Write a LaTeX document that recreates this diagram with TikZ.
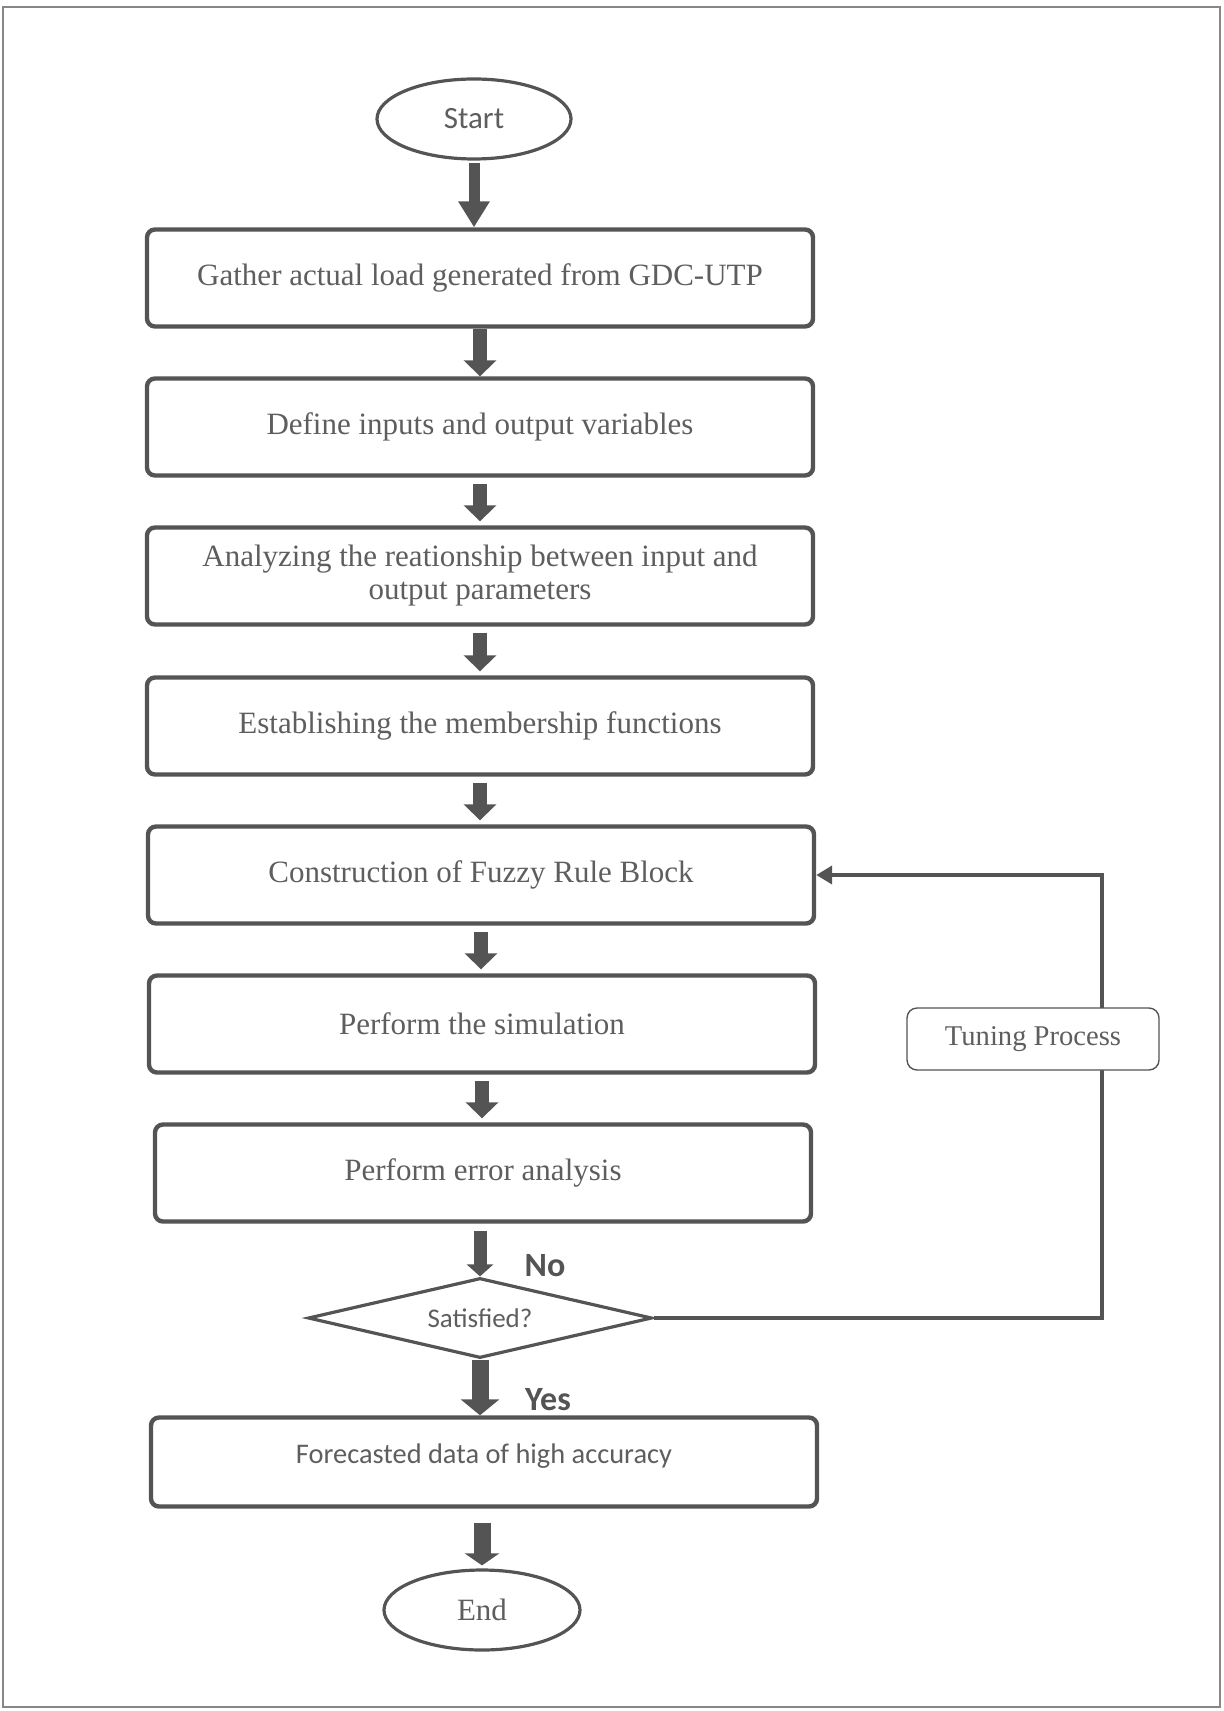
\documentclass[tikz,border=0pt]{standalone}
\usepackage{fontspec}
\setmainfont{Liberation Serif}
\newfontfamily\calib{Carlito}
\usetikzlibrary{shapes.geometric,arrows.meta,positioning,calc}
\definecolor{linegray}{HTML}{545454}
\definecolor{txtgray}{HTML}{5E5E5E}

\begin{document}
\begin{tikzpicture}[x=0.5pt,y=-0.5pt,
    procbox/.style={draw=linegray, line width=2.2pt, rounded corners=4pt, fill=white,
        minimum width=333pt, minimum height=48.5pt, inner sep=0pt, align=center,
        text=txtgray, font=\fontsize{15.5}{16.5}\selectfont},
    termin/.style={ellipse, draw=linegray, line width=1.6pt, minimum width=97pt,
        minimum height=40pt, inner sep=0pt, text=txtgray},
    decide/.style={diamond, draw=linegray, line width=1.6pt, minimum width=172pt,
        minimum height=40pt, aspect=4, inner sep=0pt, text=txtgray,
        font=\calib\fontsize{13.5}{15}\selectfont},
    tunebox/.style={draw=linegray, line width=0.7pt, rounded corners=5pt, fill=white,
        minimum width=126pt, minimum height=31pt, text=txtgray,
        font=\fontsize{14.3}{16}\selectfont},
    blockarr/.style={draw=linegray, line width=7pt, -{Triangle[width=16pt,length=8pt]}},
    fbline/.style={draw=linegray, line width=2.2pt},
    answer/.style={text=linegray, font=\calib\bfseries\fontsize{17}{18}\selectfont}
]
\useasboundingbox (0,0) rectangle (1224,1711);
% outer frame
\draw[linegray!70, line width=0.8pt] (3,7) rectangle (1220,1707);

% terminals and steps
\node[termin, font=\calib\fontsize{15.5}{17}\selectfont] (start) at (474,119) {Start};
\node[procbox] (gather) at (480,278) {Gather actual load generated from GDC-UTP};
\node[procbox] (define) at (480,427) {Define inputs and output variables};
\node[procbox] (relate) at (480,576) {Analyzing the reationship between input and\\output parameters};
\node[procbox] (member) at (480,726) {Establishing the membership functions};
\node[procbox] (rules) at (481,875) {Construction of Fuzzy Rule Block};
\node[procbox] (simul) at (482,1024) {Perform the simulation};
\node[procbox, minimum width=328pt] (error) at (483,1173) {Perform error analysis};
\node[decide] (check) at (480,1318) {Satisfied?};
\node[procbox, minimum height=44.5pt, font=\calib\fontsize{14.2}{16}\selectfont]
    (result) at (484,1462) {\raisebox{8pt}{Forecasted data of high accuracy}};
\node[termin, minimum width=98pt, font=\fontsize{15.5}{17}\selectfont] (finish) at (482,1610) {End};

% main flow
\draw[blockarr, line width=5.5pt, -{Triangle[width=15pt,length=13pt]}]
    (start.south) ++(0,2) -- (start.south |- gather.north);
\draw[blockarr] (gather.south) -- (gather.south |- define.north);
\draw[blockarr] (define.south) ++(0,6) -- ($(define.south |- relate.north)+(0,-4)$);
\draw[blockarr] (relate.south) ++(0,6) -- ($(relate.south |- member.north)+(0,-4)$);
\draw[blockarr] (member.south) ++(0,6) -- ($(member.south |- rules.north)+(0,-4)$);
\draw[blockarr] (rules.south) ++(0,6) -- ($(rules.south |- simul.north)+(0,-4)$);
\draw[blockarr] (simul.south) ++(0,6) -- ($(simul.south |- error.north)+(0,-4)$);
\draw[blockarr, line width=6.5pt, -{Triangle[width=13pt,length=6pt]}]
    (check.north) ++(0,-45) -- (check.north);
\draw[blockarr, line width=8.5pt, -{Triangle[width=19pt,length=8pt]}]
    (check.south) -- (check.south |- result.north);
\draw[blockarr, line width=8.5pt, -{Triangle[width=17pt,length=6pt]}]
    (finish.north) ++(0,-45) -- ($(finish.north)+(0,-3)$);

% answers
\node[answer] (no) at (545,1266) {No};
\node[answer] (yes) at (548,1400) {Yes};

% tuning loop
\coordinate (loopx) at (1102,0);
\draw[fbline, -{Triangle[width=9pt,length=8pt]}]
    (check.east) -- (check.east -| loopx) |- (rules.east);
\node[tunebox] (tune) at (1033,1039) {Tuning Process};
\end{tikzpicture}
\end{document}
